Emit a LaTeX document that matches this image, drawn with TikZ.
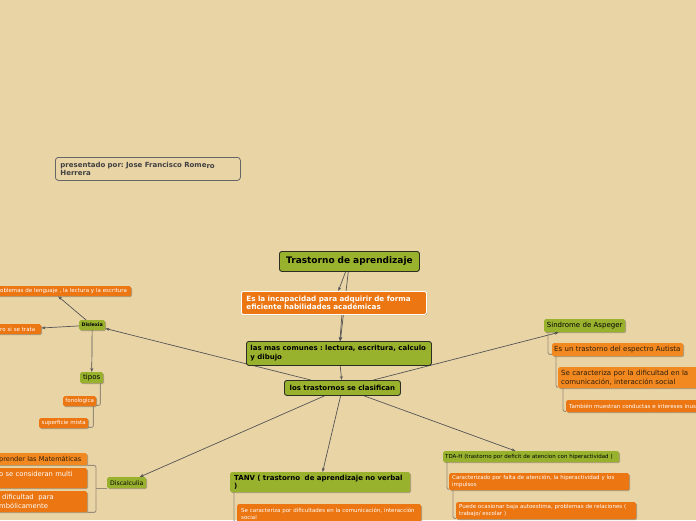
\documentclass[tikz,border=0pt]{standalone}
\usepackage{fontspec}
\setmainfont{DejaVu Sans}
\usetikzlibrary{arrows.meta,shadows,calc}
\definecolor{bgc}{RGB}{233,212,166}
\definecolor{grn}{RGB}{152,178,46}
\definecolor{org}{RGB}{236,118,18}
\definecolor{orgl}{RGB}{242,136,32}
\definecolor{dk}{RGB}{45,45,35}
\definecolor{txt}{RGB}{45,30,10}
\definecolor{cgray}{RGB}{85,85,85}
\definecolor{bgray}{RGB}{150,140,120}
\newcommand\myfa{\fontsize{5.5}{7}\selectfont}
\newcommand\myfb{\fontsize{7}{9}\selectfont}
\newcommand\myfc{\fontsize{7}{8.6}\selectfont}
\newcommand\myfd{\fontsize{7.2}{8.8}\selectfont}
\pgfdeclarelayer{bgl}
\pgfsetlayers{bgl,main}
\tikzset{
  box/.style={anchor=north west, inner xsep=3pt, inner ysep=0pt, align=left, rounded corners=1.5pt},
  shad/.style={drop shadow={shadow xshift=0.8pt,shadow yshift=-0.8pt,fill=black,opacity=0.25}},
  gbig/.style={box, fill=grn, draw=dk, line width=0.9pt, rounded corners=2.5pt, text=black},
  gsmall/.style={box, fill=grn, text=black, shad},
  ob/.style={box, fill=org, text=white, shad},
  olt/.style={box, fill=orgl, text=txt, shad},
  pres/.style={box, draw=black!60, line width=0.8pt, rounded corners=3pt, text=black!75},
  conn/.style={draw=cgray, line width=0.7pt, -{Stealth[length=4pt,width=3pt]}},
  brk/.style={draw=bgray, line width=0.9pt, rounded corners=2pt}
}
\begin{document}
\frenchspacing
\begin{tikzpicture}[x=1pt,y=-1pt]
\useasboundingbox (0,0) rectangle (696,520);
\clip (0,0) rectangle (696,520);
% nodes
\node[pres, inner xsep=5pt, text width=175pt, minimum height=23pt, font=\bfseries\myfc] (pres) at (55,157) {presentado por: Jose Francisco Rome\raisebox{-1.5pt}{ro}\\Herrera};
\node[gbig, align=center, text width=134pt, minimum height=20pt, font=\bfseries\fontsize{9}{10}\selectfont] (main) at (279,251) {Trastorno de aprendizaje};
\node[ob, draw=white, line width=0.8pt, inner xsep=5pt, text width=175pt, minimum height=23pt, font=\bfseries\myfd] (incap) at (241,291) {Es la incapacidad para adquirir de forma\\eficiente habilidades académicas};
\node[gbig, inner xsep=4pt, text width=177pt, minimum height=24pt, font=\bfseries\fontsize{7}{8.8}\selectfont] (comunes) at (246,341) {las mas comunes : lectura, escritura, calculo\\y dibujo};
\node[gbig, align=center, text width=110pt, minimum height=15pt, font=\bfseries\fontsize{7}{8}\selectfont] (clas) at (284,380) {los trastornos se clasifican};
% Dislexia
\node[gsmall, align=center, inner xsep=1pt, text width=24pt, minimum height=10pt, font=\bfseries\fontsize{4.8}{6}\selectfont] (dislexia) at (79,320) {Dislexia};
\node[ob, text width=128pt, minimum height=10pt, font=\myfa] (prob) at (-3,286) {oblemas de lenguaje , la lectura y la escritura};
\node[ob, text width=38pt, minimum height=10pt, font=\myfa] (ro) at (-3,324) {ro si se trata};
\node[gsmall, align=center, inner xsep=1pt, text width=21pt, minimum height=11pt, font=\myfb] (tipos) at (80,372) {tipos};
\node[ob, align=center, inner xsep=1pt, text width=31pt, minimum height=10pt, font=\myfa] (fono) at (63,396) {fonologica};
\node[ob, align=center, inner xsep=1pt, text width=47pt, minimum height=10pt, font=\myfa] (sup) at (39,418) {superficie mista};
% Discalculia
\node[gsmall, align=center, inner xsep=1pt, text width=37pt, minimum height=11pt, font=\fontsize{6.2}{7.5}\selectfont] (disc) at (107,477) {Discalculia};
\node[olt, inner xsep=2pt, text width=86pt, minimum height=12pt, font=\fontsize{6.6}{8.6}\selectfont] (mat) at (-3,453) {prender las Matemáticas};
\node[ob, inner xsep=2pt, text width=86pt, minimum height=20pt, font=\fontsize{6.8}{8.6}\selectfont] (multi) at (-3,468) {o se consideran multi\\\mbox{}};
\node[ob, inner xsep=2pt, text width=86pt, minimum height=21pt, font=\fontsize{6.8}{8.6}\selectfont] (simb) at (-3,491) {\hspace{3pt}dificultad\ \ para\\mbólicamente};
% Asperger
\node[gsmall, align=center, inner xsep=1pt, text width=79pt, minimum height=13pt, font=\myfb] (asp) at (544,319) {Sindrome de Aspeger};
\node[olt, inner xsep=2pt, text width=127pt, minimum height=13pt, font=\myfb] (autista) at (552,343) {Es un trastorno del espectro Autista};
\node[olt, text width=139pt, minimum height=21pt, font=\myfb] (carac) at (558,367) {Se caracteriza por la dificultad en la\\comunicación, interacción social};
\node[ob, text width=134pt, minimum height=12pt, font=\myfa] (tambien) at (566,400) {También muestran conductas e intereses inus};
% TDA-H
\node[gsmall, inner xsep=2pt, text width=172pt, minimum height=11pt, font=\myfa] (tdah) at (443,451) {TDA-H (trastorno por deficit de atencion con hiperactividad )};
\node[ob, text width=174pt, minimum height=17pt, font=\myfa] (carac2) at (449,473) {Caracterizado por falta de atención, la hiperactividad y los\\impulsos};
\node[ob, text width=174pt, minimum height=17pt, font=\myfa] (puede) at (456,502) {Puede ocasionar baja autoestima, problemas de relaciones (\\trabajo/ escolar )};
% TANV
\node[gsmall, inner xsep=4pt, text width=172pt, minimum height=20pt, font=\bfseries\fontsize{7}{8.6}\selectfont] (tanv) at (230,472) {TANV ( trastorno\ \ de aprendizaje no verbal\\)};
\node[ob, inner xsep=4pt, text width=176pt, minimum height=20pt, font=\myfa] (se2) at (237,504) {Se caracteriza por dificultades en la comunicación, interacción\\social};
% connectors
\begin{pgfonlayer}{bgl}
\fill[bgc] (0,0) rectangle (696,520);
\draw[conn] (main) -- (incap);
\draw[conn] (main) -- (comunes);
\draw[conn] ([xshift=8pt]incap.south) -- (comunes);
\draw[conn] (comunes) -- (clas);
\draw[conn] (clas) -- (dislexia);
\draw[conn] (clas) -- (asp);
\draw[conn] (clas) -- (disc);
\draw[conn] (clas) -- (tanv);
\draw[conn] (clas) -- (tdah);
\draw[conn] (dislexia) -- ([xshift=-6pt]prob.south);
\draw[conn] (dislexia) -- (ro);
\draw[conn] (dislexia) -- (tipos);
\draw[brk] ([xshift=-3pt]tipos.south east) |- ([yshift=1pt]fono.south east);
\draw[brk] ([xshift=-3pt]fono.south east) |- ([yshift=1pt]sup.south east);
\coordinate (dkc) at ($(disc.south west)+(-11,0)$);
\draw[brk] (disc.south west) -- (dkc);
\draw[brk] (mat.south east) -| (dkc) |- (simb.south east);
\draw[brk] ([xshift=4pt]asp.south west) |- ([yshift=2pt]autista.south west);
\draw[brk] ([xshift=4pt]autista.south west) |- ([yshift=1pt]carac.south west);
\draw[brk] ([xshift=5pt]carac.south west) |- ([yshift=1pt]tambien.south west);
\draw[brk] ([xshift=4pt]tdah.south west) |- ([yshift=1pt]carac2.south west);
\draw[brk] ([xshift=4pt]carac2.south west) |- ([yshift=1pt]puede.south west);
\draw[brk] ([xshift=4pt]tanv.south west) |- ([yshift=2pt]se2.south west);
\end{pgfonlayer}
\end{tikzpicture}
\end{document}
